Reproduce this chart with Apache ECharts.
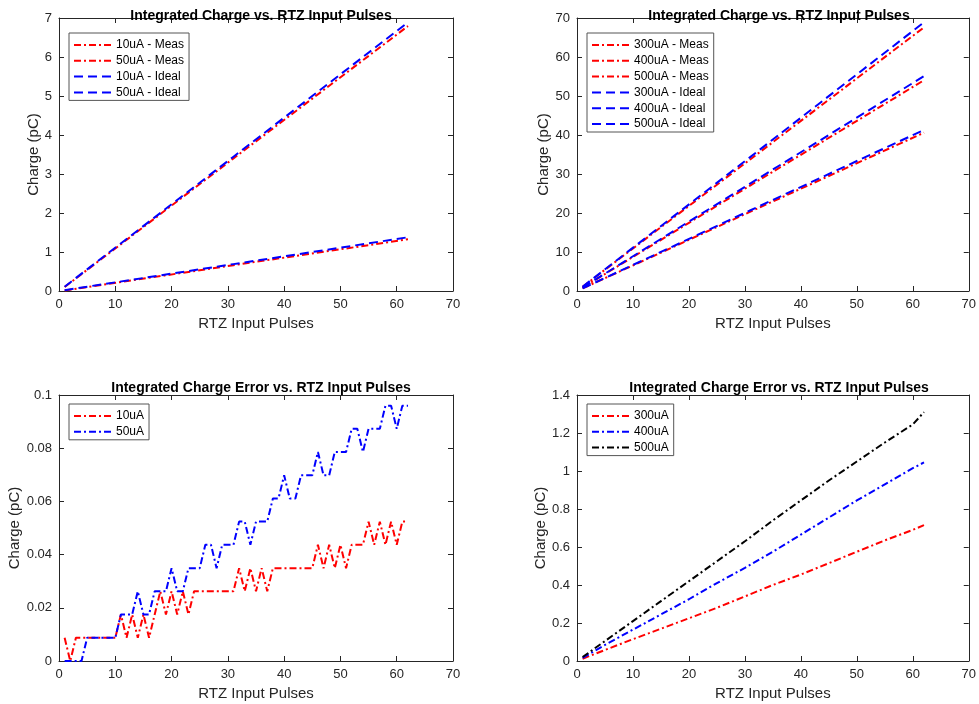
<!DOCTYPE html>
<html>
<head>
<meta charset="utf-8">
<script src="https://cdn.jsdelivr.net/npm/echarts@6/dist/echarts.min.js"></script>
<style>
  html, body { margin: 0; padding: 0; background: #fff; }
  #main { width: 979px; height: 704px; }
</style>
</head>
<body>
<div id="main"></div>
<script>
  // top left: charge vs pulses, 10uA / 50uA
  var tlPulses = [1, 31, 62];
  var meas10 = [0.013, 0.663, 1.326];
  var meas50 = [0.102, 3.40, 6.793];
  var ideal10 = [0.022, 0.689, 1.378];
  var ideal50 = [0.111, 3.444, 6.889];

  // top right: charge vs pulses, 300 / 400 / 500uA
  var trPulses = [1, 31, 62];
  var meas300 = [0.66, 20.35, 40.6];
  var meas400 = [0.87, 27.1, 54.05];
  var meas500 = [1.09, 33.8, 67.6];
  var ideal300 = [0.67, 20.7, 41.3];
  var ideal400 = [0.89, 27.6, 55.1];
  var ideal500 = [1.11, 34.4, 68.9];

  // bottom left: error per pulse count, 10uA / 50uA
  var blPulses = [1, 2, 3, 4, 5, 6, 7, 8, 9, 10, 11, 12, 13, 14, 15, 16, 17, 18, 19, 20,
    21, 22, 23, 24, 25, 26, 27, 28, 29, 30, 31, 32, 33, 34, 35, 36, 37, 38, 39, 40,
    41, 42, 43, 44, 45, 46, 47, 48, 49, 50, 51, 52, 53, 54, 55, 56, 57, 58, 59, 60, 61, 62];
  var err10 = [0.0087, 0, 0.0087, 0.0087, 0.0087, 0.0087, 0.0087, 0.0087, 0.0087, 0.0087,
    0.0175, 0.0087, 0.0175, 0.0087, 0.0175, 0.0087, 0.0175, 0.0262, 0.0175, 0.0262,
    0.0175, 0.0262, 0.0175, 0.0262, 0.0262, 0.0262, 0.0262, 0.0262, 0.0262, 0.0262,
    0.0262, 0.0349, 0.0262, 0.0349, 0.0262, 0.0349, 0.0262, 0.0349, 0.0349, 0.0349,
    0.0349, 0.0349, 0.0349, 0.0349, 0.0349, 0.0437, 0.0349, 0.0437, 0.0349, 0.0437,
    0.0349, 0.0437, 0.0437, 0.0437, 0.0524, 0.0437, 0.0524, 0.0437, 0.0524, 0.0437,
    0.0524, 0.0524];
  var err50 = [0, 0, 0, 0, 0.0087, 0.0087, 0.0087, 0.0087, 0.0087, 0.0087,
    0.0175, 0.0175, 0.0175, 0.0262, 0.0175, 0.0175, 0.0262, 0.0262, 0.0262, 0.0349,
    0.0262, 0.0262, 0.0349, 0.0349, 0.0349, 0.0437, 0.0437, 0.0349, 0.0437, 0.0437,
    0.0437, 0.0524, 0.0524, 0.0437, 0.0524, 0.0524, 0.0524, 0.0611, 0.0611, 0.0698,
    0.0611, 0.0611, 0.0698, 0.0698, 0.0698, 0.0786, 0.0698, 0.0698, 0.0786, 0.0786,
    0.0786, 0.0873, 0.0873, 0.0786, 0.0873, 0.0873, 0.0873, 0.096, 0.096, 0.0873,
    0.096, 0.096];

  // bottom right: error per pulse count, 300 / 400 / 500uA
  var brPulses = [1, 5, 10, 15, 20, 25, 30, 35, 40, 45, 50, 55, 60, 62];
  var err300 = [0.012, 0.058, 0.115, 0.17, 0.225, 0.28, 0.34, 0.40, 0.455, 0.515, 0.575, 0.635, 0.69, 0.715];
  var err400 = [0.017, 0.085, 0.165, 0.245, 0.325, 0.41, 0.49, 0.575, 0.665, 0.755, 0.845, 0.93, 1.015, 1.045];
  var err500 = [0.021, 0.105, 0.21, 0.315, 0.42, 0.525, 0.63, 0.74, 0.845, 0.95, 1.05, 1.15, 1.245, 1.31];

  var xTicks = {min: 0, max: 70, interval: 10};

  var FONT = 'Arial, "Liberation Sans", Helvetica, sans-serif';
  var AX = '#262626';
  var DASH = [9, 5];
  var DASHDOT = [7, 3, 2, 3];

  function pairs(xs, ys) {
    return xs.map(function (x, i) { return [x, ys[i]]; });
  }

  function line(name, grid, xs, ys, color, dash) {
    return {
      name: name,
      type: 'line',
      xAxisIndex: grid * 2,
      yAxisIndex: grid * 2,
      data: pairs(xs, ys),
      symbol: 'none',
      silent: true,
      animation: false,
      lineStyle: {color: color, width: 2, type: dash},
      itemStyle: {color: color}
    };
  }

  var grids = [
    {left: 59, top: 18, width: 394, height: 273},
    {left: 577, top: 18, width: 393, height: 273},
    {left: 59, top: 395, width: 394, height: 266},
    {left: 577, top: 395, width: 393, height: 266}
  ];
  var yRanges = [
    {min: 0, max: 7, interval: 1, gap: 11},
    {min: 0, max: 70, interval: 10, gap: 19},
    {min: 0, max: 0.1, interval: 0.02, gap: 32},
    {min: 0, max: 1.4, interval: 0.2, gap: 25}
  ];

  var xAxis = [], yAxis = [];
  grids.forEach(function (g, i) {
    var common = {
      axisLine: {show: true, onZero: false, lineStyle: {color: AX, width: 1}},
      axisTick: {show: true, inside: true, length: 5, lineStyle: {color: AX}},
      splitLine: {show: false}
    };
    xAxis.push(Object.assign({
      type: 'value', gridIndex: i, position: 'bottom',
      min: xTicks.min, max: xTicks.max, interval: xTicks.interval,
      name: 'RTZ Input Pulses', nameLocation: 'middle', nameGap: 25,
      nameTextStyle: {color: AX, fontSize: 15, fontFamily: FONT},
      axisLabel: {color: AX, fontSize: 13, fontFamily: FONT, margin: 7}
    }, common));
    xAxis.push(Object.assign({
      type: 'value', gridIndex: i, position: 'top',
      min: xTicks.min, max: xTicks.max, interval: xTicks.interval,
      axisLabel: {show: false}
    }, common));
    yAxis.push(Object.assign({
      type: 'value', gridIndex: i, position: 'left',
      min: yRanges[i].min, max: yRanges[i].max, interval: yRanges[i].interval,
      name: 'Charge (pC)', nameLocation: 'middle', nameGap: yRanges[i].gap,
      nameTextStyle: {color: AX, fontSize: 15, fontFamily: FONT},
      axisLabel: {color: AX, fontSize: 13, fontFamily: FONT, margin: 7}
    }, common));
    yAxis.push(Object.assign({
      type: 'value', gridIndex: i, position: 'right',
      min: yRanges[i].min, max: yRanges[i].max, interval: yRanges[i].interval,
      axisLabel: {show: false}
    }, common));
  });

  var titleStyle = {color: '#000', fontSize: 14, fontWeight: 'bold', fontFamily: FONT};
  var legendBase = {
    orient: 'vertical',
    backgroundColor: '#fff',
    borderColor: '#555',
    borderWidth: 1,
    borderRadius: 0,
    padding: [6, 5, 2, 4],
    itemWidth: 39,
    itemHeight: 12,
    itemGap: 3.8,
    selectedMode: false,
    itemStyle: {opacity: 0},
    textStyle: {color: '#000', fontSize: 12, lineHeight: 12, fontFamily: FONT, padding: [0, 0, 0, -2]}
  };

  var chartDom = document.getElementById('main');
  var myChart = echarts.init(chartDom, null, {renderer: 'canvas'});
  var option;

  option = {
    backgroundColor: '#fff',
    animation: false,
    title: [
      {text: 'Integrated Charge vs. RTZ Input Pulses', left: 256, top: 4, textAlign: 'center', textStyle: titleStyle},
      {text: 'Integrated Charge vs. RTZ Input Pulses', left: 774, top: 4, textAlign: 'center', textStyle: titleStyle},
      {text: 'Integrated Charge Error vs. RTZ Input Pulses', left: 256, top: 376, textAlign: 'center', textStyle: titleStyle},
      {text: 'Integrated Charge Error vs. RTZ Input Pulses', left: 774, top: 376, textAlign: 'center', textStyle: titleStyle}
    ],
    legend: [
      Object.assign({left: 69, top: 33, data: ['10uA - Meas', '50uA - Meas', '10uA - Ideal', '50uA - Ideal']}, legendBase),
      Object.assign({left: 587, top: 33, data: ['300uA - Meas', '400uA - Meas', '500uA - Meas', '300uA - Ideal', '400uA - Ideal', '500uA - Ideal']}, legendBase),
      Object.assign({left: 69, top: 404, data: ['10uA', '50uA']}, legendBase),
      Object.assign({left: 587, top: 404, data: ['300uA', '400uA', '500uA']}, legendBase)
    ],
    grid: grids,
    xAxis: xAxis,
    yAxis: yAxis,
    series: [
      line('10uA - Meas', 0, tlPulses, meas10, '#ff0000', DASHDOT),
      line('50uA - Meas', 0, tlPulses, meas50, '#ff0000', DASHDOT),
      line('10uA - Ideal', 0, tlPulses, ideal10, '#0000ff', DASH),
      line('50uA - Ideal', 0, tlPulses, ideal50, '#0000ff', DASH),

      line('300uA - Meas', 1, trPulses, meas300, '#ff0000', DASHDOT),
      line('400uA - Meas', 1, trPulses, meas400, '#ff0000', DASHDOT),
      line('500uA - Meas', 1, trPulses, meas500, '#ff0000', DASHDOT),
      line('300uA - Ideal', 1, trPulses, ideal300, '#0000ff', DASH),
      line('400uA - Ideal', 1, trPulses, ideal400, '#0000ff', DASH),
      line('500uA - Ideal', 1, trPulses, ideal500, '#0000ff', DASH),

      line('10uA', 2, blPulses, err10, '#ff0000', DASHDOT),
      line('50uA', 2, blPulses, err50, '#0000ff', DASHDOT),

      line('300uA', 3, brPulses, err300, '#ff0000', DASHDOT),
      line('400uA', 3, brPulses, err400, '#0000ff', DASHDOT),
      line('500uA', 3, brPulses, err500, '#000000', DASHDOT)
    ]
  };

  option && myChart.setOption(option);
</script>
</body>
</html>
